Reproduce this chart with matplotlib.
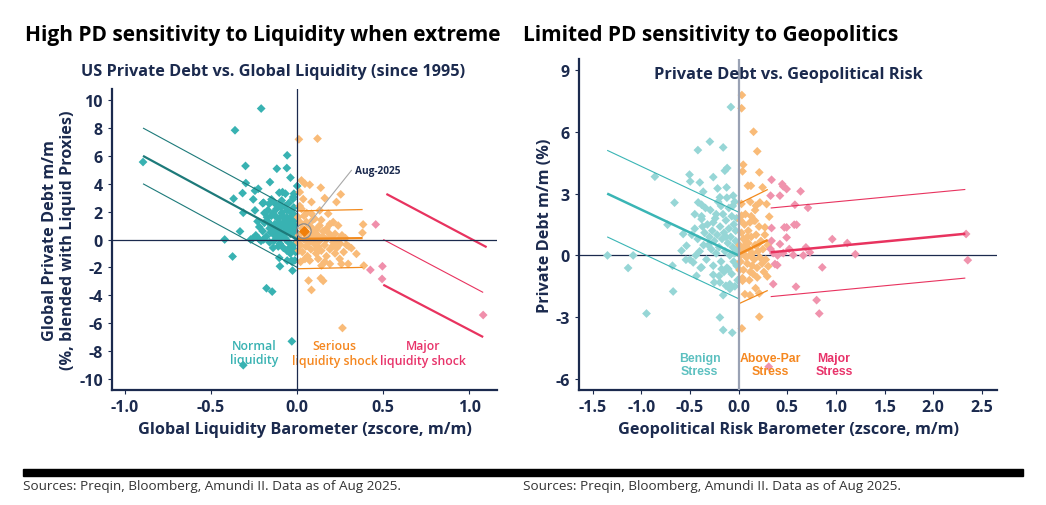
import matplotlib
matplotlib.use("Agg")
import matplotlib.pyplot as plt
import numpy as np

plt.rcParams['font.family'] = ['Open Sans', 'DejaVu Sans']

NAVY = '#1b2a4e'

# ---------------- left chart data: liquidity ----------------
liq_normal = [
    (-0.895, 5.56), (-0.209, 9.40), (-0.361, 7.84), (-0.30, 5.28), (-0.298, 4.05),
    (-0.058, 6.04), (-0.06, 5.13), (-0.118, 5.08), (-0.039, 4.44), (0.0, 3.84),
    (-0.158, 4.12), (-0.226, 3.64), (-0.245, 3.5), (-0.317, 3.33), (-0.369, 2.93),
    (-0.255, 2.88), (-0.195, 2.64), (-0.313, 1.92), (-0.245, 2.09), (-0.332, 0.58),
    (-0.421, 0.0), (-0.27, 0.0), (-0.375, -1.22), (-0.222, 0.05), (-0.104, -1.32),
    (-0.1, -1.92), (-0.027, -2.23), (-0.033, -1.51), (-0.014, -1.5), (-0.058, -1.51),
    (-0.178, -3.5), (-0.145, -3.74), (-0.031, -7.31), (-0.313, -9.02), (-0.085, 3.4),
    (-0.068, 3.29), (-0.104, 3.36), (-0.019, 3.29), (-0.023, 3.05), (-0.149, 2.88),
    (-0.162, 2.57), (-0.1, 2.49),
    (-0.19, 1.9), (-0.17, 1.3), (-0.16, 0.8), (-0.15, 1.7), (-0.14, 0.4), (-0.13, 1.1),
    (-0.12, 2.2), (-0.12, 0.2), (-0.11, 1.5), (-0.10, 0.9), (-0.10, -0.3), (-0.09, 1.9),
    (-0.09, 0.5), (-0.08, 1.2), (-0.08, -0.6), (-0.07, 2.4), (-0.07, 0.1), (-0.06, 1.6),
    (-0.06, 0.7), (-0.05, 1.0), (-0.05, -0.2), (-0.04, 2.0), (-0.04, 0.4), (-0.03, 1.3),
    (-0.03, -0.5), (-0.02, 0.8), (-0.02, 1.8), (-0.01, 0.2), (-0.01, 1.1), (-0.01, -0.9),
    (-0.18, 0.2), (-0.2, 0.6), (-0.22, 0.9), (-0.24, 0.3), (-0.21, -0.1), (-0.16, -0.2),
    (-0.14, 1.9), (-0.13, 2.6), (-0.11, 0.6), (-0.09, 2.8), (-0.07, 1.4), (-0.05, 2.6),
    (-0.04, 1.6), (-0.03, 0.6), (-0.02, 2.3), (-0.015, -0.3), (-0.06, -0.8), (-0.1, 0.0),
    (-0.12, 1.6), (-0.15, 1.0), (-0.17, 2.1), (-0.19, 1.2), (-0.08, 0.3), (-0.06, 2.1),
    (-0.04, -1.0), (-0.02, 1.4), (-0.11, -0.5), (-0.13, 0.7), (-0.005, 0.5), (-0.005, 1.6),
    (-0.025, 2.9), (-0.035, 0.9), (-0.045, -0.6), (-0.055, 1.3), (-0.065, 0.0), (-0.075, 0.9),
    (-0.085, 1.7), (-0.095, 2.3), (-0.105, 1.2), (-0.115, 0.3), (-0.135, -0.1), (-0.155, 0.5),
    (-0.175, 1.6), (-0.26, 0.05), (-0.23, 1.3), (-0.2, 2.6), (-0.195, 0.0), (-0.14, -0.6),
    (-0.03, -1.6), (-0.02, -0.7),
]
liq_serious = [
    (0.01, 7.19), (0.118, 7.24), (0.025, 4.24), (0.045, 4.0), (0.073, 3.93), (0.137, 3.72),
    (0.015, 3.4), (0.16, 2.97), (0.253, 3.24), (0.228, 2.69), (0.083, 2.69), (0.18, 1.85),
    (0.383, 1.08), (0.379, 0.48), (0.344, -1.03), (0.387, -1.87), (0.296, -1.75),
    (0.257, -1.75), (0.247, -1.39), (0.073, -1.51), (0.122, -1.39), (0.141, -1.87),
    (0.19, -1.75), (0.066, -2.95), (0.137, -2.78), (0.151, -2.97), (0.083, -3.62),
    (0.263, -6.35), (0.112, -0.67), (0.209, -0.43), (0.228, -0.19), (0.286, -0.38),
    (0.315, -0.62), (0.17, 0.77), (0.209, 1.25), (0.238, 1.0), (0.102, 1.49), (0.054, 1.25),
    (0.025, 2.2), (0.131, 2.09), (0.083, 1.85),
    (0.01, 0.3), (0.02, -0.4), (0.02, 1.2), (0.03, 0.8), (0.03, -0.9), (0.04, 0.0),
    (0.04, 1.7), (0.05, -0.5), (0.05, 0.5), (0.06, 1.1), (0.06, -1.2), (0.07, 0.2),
    (0.07, -0.2), (0.08, 0.9), (0.08, -0.7), (0.09, 0.4), (0.09, 1.4), (0.1, -0.3),
    (0.1, 0.1), (0.11, -1.0), (0.11, 0.7), (0.12, 0.3), (0.12, -0.5), (0.13, 1.0),
    (0.13, -0.1), (0.14, -0.8), (0.15, 0.2), (0.15, 0.6), (0.16, -0.4), (0.17, -1.2),
    (0.17, 0.0), (0.18, 0.5), (0.19, -0.7), (0.2, 0.2), (0.21, -0.2), (0.22, 0.4),
    (0.23, -0.6), (0.24, 0.0), (0.25, -0.3), (0.26, 0.3), (0.27, -0.9), (0.28, 0.1),
    (0.3, -0.5), (0.015, 2.4), (0.02, -1.6), (0.01, -0.8), (0.035, 2.9), (0.045, -1.4),
    (0.055, 1.9), (0.065, -0.1), (0.14, 1.4), (0.19, 1.1), (0.22, -1.0), (0.005, 1.6),
    (0.005, -0.2), (0.16, -1.6),
]
liq_major = [(0.456, 1.08), (0.425, -2.18), (0.495, -1.92), (0.493, -2.83), (1.08, -5.42)]
liq_latest = (0.039, 0.6)

# fitted regime lines (x0, y0, x1, y1)
liq_fit_normal = [(-0.895, 6.0, 0.0, 0.0), (-0.895, 8.0, 0.0, 2.0), (-0.895, 4.0, 0.0, -2.0)]
liq_fit_serious = [(0.0, 0.05, 0.38, 0.1), (0.0, 2.05, 0.38, 2.15), (0.0, -2.1, 0.38, -2.0)]
liq_fit_major = [(0.5, 0.0, 1.08, -3.8), (0.518, 3.27, 1.10, -0.55), (0.5, -3.25, 1.08, -7.0)]

# ---------------- right chart data: geopolitics ----------------
geo_benign = [
    (-1.347, 0.0), (-1.135, -0.61), (-1.083, 0.0), (-0.86, 3.82), (-0.946, -2.82),
    (-0.672, -1.75), (-0.679, -0.5), (-0.658, 2.56), (-0.73, 1.49), (-0.418, 5.11),
    (-0.295, 5.52), (-0.158, 5.24), (-0.079, 7.2), (-0.504, 3.92), (-0.497, 3.59),
    (-0.398, 3.54), (-0.26, 3.8), (-0.363, 3.09), (-0.38, 2.46), (-0.415, 2.57),
    (-0.141, 4.11), (-0.117, 4.24), (-0.216, 3.25), (-0.123, 3.3), (-0.192, 2.82),
    (-0.055, 2.9), (-0.38, 1.76), (-0.535, 0.47), (-0.432, -0.99), (-0.466, -0.34),
    (-0.38, -0.58), (-0.26, -0.94), (-0.25, -1.31), (-0.192, -1.31), (-0.158, -1.93),
    (-0.13, -1.47), (-0.192, -3.01), (-0.158, -3.62), (-0.065, -3.75), (-0.089, -1.63),
    (-0.038, -1.5), (-0.175, -0.66), (-0.106, -0.66), (-0.569, 1.04), (-0.586, 0.23),
    (-0.541, -0.21),
    (-0.45, 1.3), (-0.42, 0.8), (-0.4, 0.2), (-0.38, 1.9), (-0.36, 0.5), (-0.35, 1.1),
    (-0.33, -0.2), (-0.32, 1.5), (-0.3, 0.9), (-0.29, 2.2), (-0.28, 0.3), (-0.27, 1.2),
    (-0.26, -0.5), (-0.25, 0.7), (-0.24, 1.8), (-0.23, 0.1), (-0.22, 1.0), (-0.21, 2.6),
    (-0.2, 0.4), (-0.19, 1.4), (-0.18, -0.3), (-0.17, 0.8), (-0.16, 2.0), (-0.15, 1.1),
    (-0.14, 0.2), (-0.13, 1.7), (-0.12, -0.6), (-0.11, 0.6), (-0.1, 2.3), (-0.1, 1.3),
    (-0.09, 0.0), (-0.08, 0.9), (-0.07, 1.9), (-0.07, -0.9), (-0.06, 0.4), (-0.05, 1.5),
    (-0.05, -0.3), (-0.04, 2.6), (-0.03, 0.7), (-0.03, 1.2), (-0.02, -0.5), (-0.02, 1.8),
    (-0.01, 0.3), (-0.01, -1.2), (-0.06, 2.4), (-0.12, 2.8), (-0.18, 2.4), (-0.26, 1.6),
    (-0.34, 2.3), (-0.44, 0.0), (-0.48, 1.0), (-0.5, -0.2), (-0.39, -0.6), (-0.31, 0.5),
    (-0.2, -1.0), (-0.15, -0.8), (-0.09, -1.4), (-0.23, 2.0), (-0.13, 0.9), (-0.04, 0.1),
    (-0.37, 1.4), (-0.45, 2.0),
]
geo_abovepar = [
    (0.034, 7.78), (0.031, 7.14), (0.154, 6.0), (0.192, 5.05), (0.048, 4.4), (0.041, 4.08),
    (0.213, 4.03), (0.096, 3.38), (0.127, 3.38), (0.247, 3.3), (0.178, 2.41), (0.219, 2.57),
    (0.288, 2.49), (0.315, 1.88), (0.031, 1.93), (0.117, 1.6), (0.168, 1.68), (0.271, 1.36),
    (0.305, -0.53), (0.295, -1.02), (0.192, -1.07), (0.041, -1.23), (0.175, -1.59),
    (0.065, -1.88), (0.117, -1.93), (0.213, -1.84), (0.213, -2.98), (0.034, -3.54),
    (0.01, 0.5), (0.02, -0.3), (0.03, 1.1), (0.04, 0.2), (0.05, -0.7), (0.05, 0.8),
    (0.06, 1.5), (0.07, 0.0), (0.08, 0.6), (0.09, -0.4), (0.1, 1.2), (0.11, 0.3),
    (0.12, -0.8), (0.13, 0.9), (0.14, 0.1), (0.15, 1.7), (0.16, -0.2), (0.17, 0.5),
    (0.18, 1.0), (0.19, -0.6), (0.2, 0.2), (0.21, 1.4), (0.22, -0.1), (0.23, 0.7),
    (0.24, -0.4), (0.25, 0.3), (0.27, 1.0), (0.28, -0.2), (0.3, 0.5), (0.02, 1.7),
    (0.04, -1.1), (0.07, 2.0), (0.09, 0.9), (0.11, -1.2), (0.13, 1.9), (0.15, -0.9),
    (0.17, 2.2), (0.02, 0.0), (0.06, 0.4), (0.08, -0.1), (0.1, 0.6), (0.12, 0.0),
    (0.14, -0.5), (0.19, 0.5), (0.26, -0.8), (0.01, -0.7), (0.03, 2.5), (0.12, 2.6),
]
geo_major = [
    (0.339, 3.67), (0.329, 2.9), (0.449, 3.46), (0.459, 3.35), (0.494, 3.22), (0.637, 3.11),
    (0.425, 2.9), (0.579, 2.46), (0.713, 2.31), (0.339, 1.33), (0.47, 1.36), (0.494, 1.36),
    (0.572, 1.49), (0.596, 1.49), (0.494, 0.87), (0.425, 0.55), (0.329, 0.31), (0.521, 0.31),
    (0.356, 0.11), (0.401, 0.0), (0.459, 0.11), (0.562, 0.02), (0.665, 0.0), (0.692, 0.39),
    (0.733, 0.15), (0.963, 0.79), (1.117, 0.6), (1.2, 0.06), (0.86, -0.58), (0.374, -0.42),
    (0.398, -0.47), (0.356, -1.39), (0.59, -1.52), (0.802, -2.17), (0.829, -2.82),
    (2.338, 1.04), (2.355, -0.23), (0.31, -5.4), (0.339, 0.71),
]

geo_fit_benign = [(-1.35, 3.0, 0.0, 0.0), (-1.35, 5.1, 0.0, 2.1), (-1.35, 0.9, 0.0, -2.1)]
geo_fit_abovepar = [(0.0, 0.05, 0.3, 0.75), (0.0, 2.5, 0.3, 3.2), (0.0, -2.35, 0.3, -1.7)]
geo_fit_major = [(0.33, 0.15, 2.33, 1.05), (0.33, 2.3, 2.33, 3.2), (0.33, -2.0, 2.33, -1.1)]


def scatter(ax, pts, color):
    arr = np.array(pts)
    ax.scatter(arr[:, 0], arr[:, 1], marker='D', s=20, color=color, edgecolors='none', zorder=2)


def fit_lines(ax, lines, color, widths):
    for (x0, y0, x1, y1), w in zip(lines, widths):
        ax.plot([x0, x1], [y0, y1], color=color, lw=w, zorder=3, solid_capstyle='butt')


def style(ax):
    for s in ['top', 'right']:
        ax.spines[s].set_visible(False)
    for s in ['left', 'bottom']:
        ax.spines[s].set_color(NAVY)
        ax.spines[s].set_linewidth(1.6)
    ax.tick_params(colors=NAVY, labelsize=11.5, length=3, width=0.8)
    for lab in ax.get_xticklabels() + ax.get_yticklabels():
        lab.set_fontweight('bold')


fig = plt.figure(figsize=(10.46, 5.06), dpi=100)

# ---------------- left ----------------
ax1 = fig.add_axes([0.1071, 0.2273, 0.368, 0.5948])
ax1.set_xlim(-1.075, 1.16)
ax1.set_ylim(-10.8, 10.8)
ax1.axhline(0, color=NAVY, lw=0.9, zorder=4)
ax1.axvline(0, color=NAVY, lw=0.9, zorder=4)
scatter(ax1, liq_normal, '#38b2b2')
scatter(ax1, liq_serious, '#f9bb78')
scatter(ax1, liq_major, '#f08fab')
fit_lines(ax1, liq_fit_normal, '#1d7a7a', [1.6, 0.8, 0.8])
fit_lines(ax1, liq_fit_serious, '#f28a1d', [1.6, 0.9, 0.9])
fit_lines(ax1, liq_fit_major, '#e8335f', [0.8, 1.6, 1.6])
ax1.scatter([liq_latest[0]], [liq_latest[1]], marker='D', s=22, color='#f07f0a', zorder=5)
ax1.scatter([liq_latest[0]], [liq_latest[1]], marker='o', s=110, facecolors='none',
            edgecolors='#8a8a8a', linewidths=0.9, zorder=5)
ax1.plot([liq_latest[0] + 0.02, 0.315], [liq_latest[1] + 0.4, 4.96], color='#a8a8a8', lw=0.8, zorder=5)
ax1.text(0.334, 4.92, 'Aug-2025', color=NAVY, fontsize=7.3, fontweight='bold', va='center')
ax1.set_xticks([-1.0, -0.5, 0.0, 0.5, 1.0])
ax1.set_xticklabels(['-1.0', '-0.5', '0.0', '0.5', '1.0'])
ax1.set_yticks(range(-10, 11, 2))
ax1.set_yticklabels([str(v) for v in range(-10, 11, 2)])
style(ax1)
ax1.set_xlabel('Global Liquidity Barometer (zscore, m/m)', fontsize=11.7, fontweight='bold', color=NAVY)
ax1.set_ylabel('Global Private Debt m/m\n(%, blended with Liquid Proxies)', fontsize=11.7,
               fontweight='bold', color=NAVY, labelpad=2)
ax1.text(-0.251, -8.1, 'Normal\nliquidity', color='#38b2b2', fontsize=8.8, fontweight='semibold',
         ha='center', va='center', linespacing=1.15)
ax1.text(0.218, -8.15, 'Serious\nliquidity shock', color='#f5871f', fontsize=8.8, fontweight='semibold',
         ha='center', va='center', linespacing=1.15)
ax1.text(0.73, -8.15, 'Major\nliquidity shock', color='#e8336a', fontsize=8.8, fontweight='semibold',
         ha='center', va='center', linespacing=1.15)

# ---------------- right ----------------
ax2 = fig.add_axes([0.5535, 0.2273, 0.3997, 0.6541])
ax2.set_xlim(-1.64, 2.656)
ax2.set_ylim(-6.53, 9.53)
ax2.axhline(0, color=NAVY, lw=0.9, zorder=1)
scatter(ax2, geo_benign, '#96d6d6')
scatter(ax2, geo_abovepar, '#f9bb78')
scatter(ax2, geo_major, '#f093ad')
ax2.axvline(0, color='#9aa2b4', lw=1.6, zorder=4)
fit_lines(ax2, geo_fit_benign, '#3ab5b5', [1.8, 0.8, 0.8])
fit_lines(ax2, geo_fit_abovepar, '#f28a1d', [1.8, 0.9, 0.9])
fit_lines(ax2, geo_fit_major, '#e8335f', [1.8, 0.8, 0.8])
ax2.set_xticks([-1.5, -1.0, -0.5, 0.0, 0.5, 1.0, 1.5, 2.0, 2.5])
ax2.set_xticklabels(['-1.5', '-1.0', '-0.5', '0.0', '0.5', '1.0', '1.5', '2.0', '2.5'])
ax2.set_yticks([-6, -3, 0, 3, 6, 9])
ax2.set_yticklabels(['-6', '-3', '0', '3', '6', '9'])
style(ax2)
ax2.set_xlabel('Geopolitical Risk Barometer (zscore, m/m)', fontsize=11.7, fontweight='bold', color=NAVY)
ax2.set_ylabel('Private Debt m/m (%)', fontsize=11.7, fontweight='bold', color=NAVY, labelpad=2)
lab_font = ['Liberation Sans', 'DejaVu Sans']
ax2.text(-0.4, -5.3, 'Benign\nStress', color='#5cc0c0', fontsize=8.8, fontweight='bold', ha='center',
         va='center', family=lab_font, linespacing=1.1)
ax2.text(0.33, -5.3, 'Above-Par\nStress', color='#f5871f', fontsize=8.8, fontweight='bold', ha='center',
         va='center', family=lab_font, linespacing=1.1)
ax2.text(0.98, -5.3, 'Major\nStress', color='#e8336a', fontsize=8.8, fontweight='bold', ha='center',
         va='center', family=lab_font, linespacing=1.1)
ax2.text(0.5, 0.955, 'Private Debt vs. Geopolitical Risk', transform=ax2.transAxes, ha='center',
         va='center', fontsize=11.8, fontweight='bold', color=NAVY, zorder=6)

# ---------------- titles & footer ----------------
fig.text(25 / 1046, 1 - 35 / 506, 'High PD sensitivity to Liquidity when extreme', fontsize=15,
         fontweight='bold', color='black', va='center')
fig.text(523 / 1046, 1 - 35 / 506, 'Limited PD sensitivity to Geopolitics', fontsize=15,
         fontweight='bold', color='black', va='center')
fig.text(273 / 1046, 1 - 72 / 506, 'US Private Debt vs. Global Liquidity (since 1995)', fontsize=11.7,
         fontweight='bold', color=NAVY, ha='center', va='center')
fig.patches.append(plt.Rectangle((23 / 1046, 1 - 477 / 506), 1000 / 1046, 7 / 506,
                                 transform=fig.transFigure, color='black'))
fig.text(23 / 1046, 1 - 487 / 506, 'Sources: Preqin, Bloomberg, Amundi II. Data as of Aug 2025.',
         fontsize=9.7, color='#333333', va='center')
fig.text(523 / 1046, 1 - 487 / 506, 'Sources: Preqin, Bloomberg, Amundi II. Data as of Aug 2025.',
         fontsize=9.7, color='#333333', va='center')

fig.savefig('out.png', dpi=100)
